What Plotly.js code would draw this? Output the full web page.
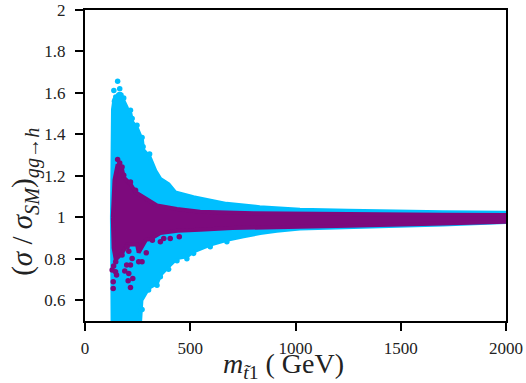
<!DOCTYPE html>
<html><head><meta charset="utf-8">
<script src="https://cdn.plot.ly/plotly-3.0.1.min.js"></script>
<style>html,body{margin:0;padding:0;background:#fff}</style></head>
<body><div id="g" style="width:526px;height:383px"></div>
<script>
const cyanUpperX=[128,130,133,140,155,165,184,200,216,224,247,271,276,307,334,358,397,429,515,626,672,830,1021,1250,1448,1700,2000];
const cyanUpperY=[1.0,1.38,1.52,1.57,1.58,1.60,1.555,1.525,1.50,1.46,1.43,1.37,1.325,1.29,1.225,1.185,1.16,1.12,1.097,1.073,1.065,1.049,1.037,1.032,1.028,1.025,1.022];
const cyanLowerX=[128,131,140,200,262,268,302,342,358,397,437,484,516,595,674,753,832,911,1021,1250,1448,1700,2000];
const cyanLowerY=[1.0,0.50,0.50,0.50,0.50,0.60,0.659,0.683,0.723,0.764,0.804,0.812,0.836,0.868,0.892,0.908,0.924,0.935,0.946,0.95,0.959,0.965,0.978];
const purpleUpperX=[132,140,155,176,184,216,240,311,342,437,547,800,1021,1250,1448,1700,2000];
const purpleUpperY=[1.0,1.18,1.255,1.233,1.193,1.161,1.121,1.073,1.057,1.04,1.027,1.02,1.017,1.016,1.014,1.012,1.011];
const purpleLowerX=[132,136,146,176,200,208,247,255,290,310,358,440,547,700,860,1021,1250,1448,1700,2000];
const purpleLowerY=[1.0,0.852,0.796,0.828,0.868,0.872,0.87,0.83,0.892,0.895,0.924,0.935,0.94,0.948,0.952,0.955,0.96,0.962,0.97,0.979];
const purpleDotsX=[129,145,134,134,189,208,216,224,205,227,216,208,255,271,291,358,374,405,448,136,150,198,155,165,176,184,216,240,146,176,200,320];
const purpleDotsY=[0.746,0.738,0.689,0.657,0.741,0.729,0.770,0.802,0.694,0.705,0.662,0.837,0.786,0.786,0.829,0.882,0.898,0.898,0.906,0.765,0.722,0.77,1.279,1.262,1.243,1.203,1.171,1.131,0.786,0.818,0.858,0.89];
const cyanDotsX=[155,137,165,146,184,271,437,484,397,140,160,171,216,224,247,271,276,307,342,358,302,516,595,674];
const cyanDotsY=[1.656,1.612,1.62,1.58,1.575,0.556,0.79,0.80,0.75,1.56,1.59,1.59,1.517,1.477,1.444,1.385,1.34,1.305,0.673,0.713,0.649,0.826,0.858,0.882];
const xTickVals=[0,500,1000,1500,2000];
const xTickText=['0','500','1000','1500','2000'];
const xMinorVals=[100,200,300,400,600,700,800,900,1100,1200,1300,1400,1600,1700,1800,1900];
const yTickVals=[0.6,0.8,1,1.2,1.4,1.6,1.8,2];
const yTickText=['0.6','0.8','1','1.2','1.4','1.6','1.8','2'];
const yMinorVals=[0.52,0.56,0.64,0.68,0.72,0.76,0.84,0.88,0.92,0.96,1.04,1.08,1.12,1.16,1.24,1.28,1.32,1.36,1.44,1.48,1.52,1.56,1.64,1.68,1.72,1.76,1.84,1.88,1.92,1.96];
const xRange=[0,2000], yRange=[0.5,2];
const CY='#00bfff', PU='#7d0a7d';
const W=422, H=311.5, pxX=(xRange[1]-xRange[0])/W, pxY=(yRange[1]-yRange[0])/H;
function band(ux,uy,lx,ly,c){return {x:ux.concat(lx.slice().reverse()),y:uy.concat(ly.slice().reverse()),
 mode:'lines',fill:'toself',fillcolor:c,line:{color:c,width:4},hoverinfo:'skip'};}
function dots(x,y,c){return {x,y,mode:'markers',marker:{color:c,size:5.5},hoverinfo:'skip'};}
function tickMarks(xGroups,yGroups){
 const x=[],y=[];
 xGroups.forEach(([vals,b,t])=>vals.forEach(v=>{
  x.push(v,v,null,v,v,null);
  y.push(yRange[0],yRange[0]-b*pxY,null,yRange[1],yRange[1]+t*pxY,null);}));
 yGroups.forEach(([vals,l,r])=>vals.forEach(v=>{
  x.push(xRange[0],xRange[0]-l*pxX,null,xRange[1],xRange[1]+r*pxX,null);
  y.push(v,v,null,v,v,null);}));
 return {x,y,mode:'lines',cliponaxis:false,connectgaps:false,line:{color:'#000',width:1.5},hoverinfo:'skip'};
}
const F={family:'"Liberation Serif",serif',color:'#222'};
function ax(o){return Object.assign({showgrid:false,showline:true,linecolor:'#000',linewidth:2,mirror:true,
 ticks:'outside',ticklen:8,tickwidth:1.5,tickcolor:'#000',tickmode:'array',tickfont:Object.assign({size:17},F)},o);}
Plotly.newPlot('g',[
 band(cyanUpperX,cyanUpperY,cyanLowerX,cyanLowerY,CY),dots(cyanDotsX,cyanDotsY,CY),
 band(purpleUpperX,purpleUpperY,purpleLowerX,purpleLowerY,PU),dots(purpleDotsX,purpleDotsY,PU),
 tickMarks([[xTickVals,8,9],[xMinorVals,5,5]],[[yTickVals,8,7],[yMinorVals,6,5]])
],{
 width:526,height:383,showlegend:false,
 margin:{l:84.5,r:19.5,t:9.5,b:62},
 xaxis:ax({range:xRange,tickvals:xTickVals,ticktext:xTickText,ticklabelstandoff:3}),
 yaxis:ax({range:yRange,tickvals:yTickVals,ticktext:yTickText,ticklabelstandoff:6}),
 annotations:[
  {xref:'paper',yref:'paper',x:(283-84.5)/W,y:(383-366-62)/H,xanchor:'center',yanchor:'middle',showarrow:false,
   text:'<i>m</i><sub><i>t̃</i>1</sub> ( GeV)',font:Object.assign({size:28},F)},
  {xref:'paper',yref:'paper',x:(24-84.5)/W,y:(383-202-62)/H,xanchor:'center',yanchor:'middle',showarrow:false,textangle:-90,
   text:'(<i>σ</i> / <i>σ</i><sub><i>SM</i></sub>)<sub><i>gg→h</i></sub>',font:Object.assign({size:29},F)}
 ]
},{displayModeBar:false});
</script></body></html>
